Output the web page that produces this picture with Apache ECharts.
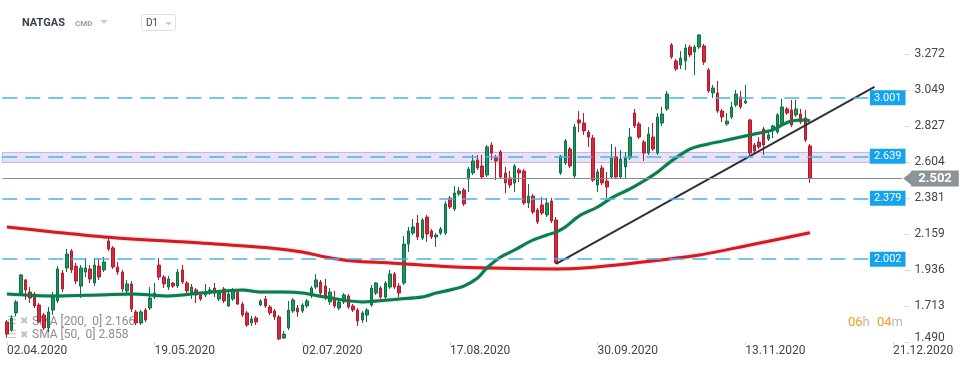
<!DOCTYPE html>
<html><head><meta charset="utf-8">
<script src="https://cdn.jsdelivr.net/npm/echarts@6/dist/echarts.min.js"></script>
<style>html,body{margin:0;padding:0;background:#fff}#c{width:974px;height:368px}</style>
</head><body><div id="c"></div>
<script>
// ---- data ----
const tickLabels = ['02.04.2020','19.05.2020','02.07.2020','17.08.2020','30.09.2020','13.11.2020','21.12.2020'];
const tickBars = [0, 32, 64, 96, 128, 160, 192];
const priceTicks = [1.490, 1.713, 1.936, 2.159, 2.381, 2.604, 2.827, 3.049, 3.272];
// [open, close, low, high]
const ohlc = [
[1.614,1.539,1.515,1.626],[1.564,1.639,1.552,1.657],[1.670,1.738,1.651,1.750],[1.793,1.905,1.781,1.911],
[1.874,1.812,1.750,1.880],[1.799,1.762,1.731,1.830],[1.787,1.713,1.700,1.799],[1.719,1.614,1.608,1.731],
[1.657,1.577,1.564,1.670],[1.577,1.676,1.552,1.707],[1.688,1.769,1.657,1.799],[1.744,1.942,1.731,1.960],
[1.917,1.818,1.799,1.936],[1.948,2.034,1.923,2.065],[2.053,1.936,1.917,2.065],[1.960,1.867,1.849,1.979],
[1.836,1.948,1.762,1.966],[1.923,1.948,1.892,2.010],[1.942,1.880,1.855,1.966],[1.855,1.966,1.836,2.010],
[1.960,1.892,1.874,2.010],[1.936,1.985,1.923,2.016],[2.115,2.065,2.053,2.146],[2.072,1.954,1.942,2.084],
[1.954,1.923,1.905,1.985],[1.923,1.818,1.799,1.936],[1.806,1.849,1.793,1.874],[1.849,1.694,1.676,1.867],
[1.676,1.608,1.595,1.688],[1.608,1.676,1.595,1.688],[1.688,1.626,1.614,1.700],[1.700,1.762,1.688,1.830],
[1.768,1.793,1.756,1.855],[1.966,1.892,1.874,2.010],[1.892,1.849,1.824,1.905],[1.830,1.880,1.812,1.898],
[1.855,1.836,1.824,1.861],[1.836,1.923,1.824,1.942],[1.936,1.861,1.849,1.966],[1.855,1.806,1.793,1.867],
[1.793,1.830,1.756,1.849],[1.812,1.781,1.731,1.824],[1.781,1.756,1.744,1.793],[1.781,1.793,1.768,1.849],
[1.793,1.812,1.781,1.830],[1.824,1.793,1.768,1.855],[1.756,1.793,1.744,1.812],[1.818,1.744,1.731,1.830],
[1.713,1.787,1.707,1.799],[1.756,1.806,1.744,1.824],[1.799,1.725,1.719,1.812],[1.725,1.657,1.645,1.738],
[1.670,1.595,1.583,1.682],[1.608,1.633,1.589,1.651],[1.639,1.614,1.595,1.651],[1.719,1.744,1.713,1.756],
[1.756,1.713,1.700,1.775],[1.707,1.670,1.657,1.719],[1.682,1.645,1.626,1.694],[1.645,1.509,1.502,1.657],
[1.515,1.539,1.509,1.558],[1.577,1.688,1.564,1.744],[1.682,1.750,1.670,1.762],[1.700,1.676,1.645,1.719],
[1.682,1.719,1.670,1.731],[1.713,1.744,1.700,1.756],[1.775,1.824,1.762,1.836],[1.830,1.874,1.818,1.911],
[1.861,1.793,1.781,1.874],[1.836,1.762,1.750,1.880],[1.738,1.799,1.719,1.824],[1.756,1.713,1.700,1.806],
[1.700,1.738,1.688,1.750],[1.738,1.781,1.725,1.793],[1.775,1.707,1.694,1.787],[1.713,1.688,1.676,1.725],
[1.688,1.620,1.589,1.700],[1.626,1.670,1.608,1.682],[1.657,1.688,1.614,1.700],[1.719,1.824,1.707,1.843],
[1.793,1.855,1.781,1.861],[1.824,1.768,1.756,1.836],[1.768,1.855,1.756,1.867],[1.830,1.911,1.818,1.936],
[1.911,1.830,1.818,1.923],[1.836,1.793,1.768,1.855],[1.855,2.096,1.843,2.146],[2.096,2.177,2.047,2.202],
[2.164,2.202,2.152,2.251],[2.226,2.140,2.121,2.276],[2.133,2.245,2.121,2.257],[2.263,2.158,2.109,2.276],
[2.177,2.140,2.127,2.189],[2.140,2.152,2.078,2.164],[2.164,2.189,2.152,2.202],[2.164,2.344,2.152,2.362],
[2.381,2.325,2.313,2.393],[2.313,2.412,2.300,2.455],[2.406,2.424,2.393,2.449],[2.431,2.344,2.331,2.443],
[2.498,2.560,2.418,2.573],[2.536,2.610,2.523,2.647],[2.616,2.567,2.554,2.647],[2.579,2.511,2.498,2.647],
[2.523,2.697,2.511,2.709],[2.709,2.659,2.616,2.727],[2.629,2.610,2.492,2.647],[2.666,2.511,2.498,2.678],
[2.536,2.474,2.412,2.573],[2.505,2.461,2.443,2.548],[2.474,2.579,2.418,2.592],[2.554,2.536,2.480,2.567],
[2.548,2.350,2.338,2.560],[2.350,2.393,2.319,2.468],[2.393,2.294,2.282,2.406],[2.307,2.233,2.220,2.319],
[2.338,2.288,2.276,2.387],[2.276,2.350,2.263,2.381],[2.362,2.239,2.226,2.381],[2.245,1.979,1.973,2.263],
[2.536,2.641,2.523,2.647],[2.598,2.734,2.585,2.746],[2.684,2.579,2.567,2.697],[2.517,2.820,2.505,2.839],
[2.864,2.845,2.789,2.919],[2.845,2.796,2.771,2.907],[2.789,2.758,2.697,2.802],[2.752,2.492,2.480,2.771],
[2.461,2.542,2.418,2.560],[2.567,2.474,2.461,2.585],[2.486,2.449,2.381,2.542],[2.511,2.629,2.498,2.715],
[2.635,2.511,2.498,2.697],[2.511,2.622,2.498,2.678],[2.573,2.629,2.505,2.666],[2.629,2.758,2.616,2.814],
[2.907,2.827,2.814,2.932],[2.839,2.758,2.746,2.851],[2.727,2.659,2.610,2.740],[2.659,2.777,2.647,2.820],
[2.758,2.684,2.672,2.845],[2.659,2.882,2.647,2.907],[2.845,2.901,2.827,2.944],[2.932,3.024,2.919,3.043],
[3.328,3.253,3.241,3.340],[3.229,3.179,3.167,3.241],[3.204,3.247,3.179,3.290],[3.229,3.309,3.173,3.334],
[3.315,3.266,3.253,3.328],[3.284,3.315,3.142,3.328],[3.315,3.390,3.303,3.396],[3.322,3.222,3.204,3.334],
[3.173,3.043,3.031,3.185],[3.031,3.062,3.000,3.080],[3.031,2.919,2.907,3.105],[2.919,2.882,2.851,2.932],
[2.839,2.857,2.827,2.907],[2.882,2.944,2.870,2.975],[2.956,3.024,2.944,3.049],[3.006,2.944,2.932,3.043],
[2.969,2.981,2.963,3.080],[2.864,2.659,2.647,2.870],[2.709,2.672,2.659,2.721],[2.727,2.697,2.684,2.758],
[2.808,2.709,2.647,2.820],[2.746,2.771,2.734,2.789],[2.802,2.827,2.752,2.833],[2.789,2.895,2.777,2.907],
[2.839,2.944,2.827,2.994],[2.932,2.907,2.895,2.944],[2.926,2.833,2.820,2.988],[2.895,2.932,2.882,2.988],
[2.901,2.851,2.839,2.932],[2.876,2.740,2.727,2.926],[2.703,2.502,2.474,2.715]
];
// [bar, value]
const sma200 = [[0,2.202],[10,2.171],[21,2.140],[42,2.102],[57,2.072],[64,2.047],[69,2.016],[75,1.991],
[83,1.979],[90,1.966],[97,1.954],[104,1.948],[119,1.942],[125,1.948],[136,1.979],[150,2.028],[161,2.090],[174,2.166]];
const sma50 = [[0,1.787],[10,1.775],[20,1.781],[27,1.787],[35,1.775],[42,1.793],[51,1.812],[55,1.799],[60,1.799],
[64,1.793],[69,1.768],[77,1.738],[85,1.756],[90,1.768],[93,1.793],[96,1.812],[99,1.836],[102,1.886],[104,1.948],
[107,2.016],[110,2.059],[114,2.121],[117,2.152],[119,2.170],[121,2.202],[124,2.270],[128,2.325],[131,2.381],[135,2.437],
[138,2.486],[141,2.542],[144,2.610],[148,2.684],[152,2.715],[155,2.733],[159,2.758],[163,2.783],[166,2.802],
[168,2.833],[170,2.857],[173,2.864],[174,2.858]];
const trend = [[119,1.973],[188,3.068]];
const levels = [3.001, 2.639, 2.379, 2.002];
const band = [2.601, 2.663];
const lastPrice = 2.502;
const levelEndBar = 187;

// ---- layout helpers ----
const PAD = 1, TOTAL = 196;
const cats = []; for (let i = 0; i < TOTAL; i++) cats.push('b' + i);
const labelMap = {}; tickBars.forEach((b, k) => labelMap[b + PAD] = tickLabels[k]);
const showTick = (i) => labelMap[i] !== undefined;
const shift = arr => arr.map(p => [p[0] + PAD, p[1]]);
const FONT = 'Roboto, "Noto Sans", sans-serif';
const CYAN = '#14a3ec';

const chart = echarts.init(document.getElementById('c'), null, {renderer: 'canvas'});
const levelLines = levels.map(v => [
  {coord: [0, v], label: {formatter: v.toFixed(3)}},
  {coord: [levelEndBar + PAD, v]}
]);

chart.setOption({
  animation: false,
  grid: {left: -2, right: 69.5, top: 0, bottom: 26},
  xAxis: {
    type: 'category', data: cats, boundaryGap: true,
    axisLine: {show: false}, splitLine: {show: false},
    axisTick: {show: true, interval: showTick, alignWithLabel: true, length: 3, lineStyle: {color: '#d2d2d2'}},
    axisLabel: {interval: showTick, formatter: (v, i) => labelMap[i] || '', align: 'left', margin: 3,
      color: '#454545', fontSize: 12, fontFamily: FONT}
  },
  yAxis: {
    type: 'value', position: 'right', min: 1.490, max: 3.606,
    axisLine: {show: false}, splitLine: {show: false},
    axisTick: {show: true, length: 5, lineStyle: {color: '#d5d5d5'}, customValues: priceTicks},
    axisLabel: {customValues: priceTicks, margin: 10, color: '#454545', fontSize: 12, fontFamily: FONT,
      formatter: v => Math.abs(v - 1.49) < 1e-6 ? '{b|' + v.toFixed(3) + '}' : v.toFixed(3),
      rich: {b: {padding: [0, 0, 8, 0], fontSize: 12, color: '#454545', fontFamily: FONT}}}
  },
  series: [
    {
      type: 'line', z: 1, data: [], silent: true,
      markLine: {
        silent: true, symbol: 'none', animation: false,
        lineStyle: {color: '#4ab3ec', width: 1.5, type: [15, 8]},
        label: {position: 'end', distance: 0, color: '#fff', backgroundColor: CYAN, fontSize: 11,
          fontFamily: FONT, padding: [2, 4, 2, 4], lineHeight: 11},
        data: levelLines.concat([[
          {coord: [0, lastPrice], lineStyle: {color: '#858e93', width: 1, type: 'solid'},
           label: {formatter: lastPrice.toFixed(3), distance: 9, backgroundColor: '#8a9499', fontSize: 13,
             fontWeight: 'bold', padding: [2, 7, 1, 7], lineHeight: 13}},
          {coord: [TOTAL - 1, lastPrice]}
        ]])
      },
      markPoint: {
        silent: true, animation: false,
        data: [{coord: [TOTAL - 1, lastPrice], symbol: 'triangle', symbolSize: [16, 10], symbolRotate: 90,
          symbolOffset: [6, 0], itemStyle: {color: '#8a9499'}, label: {show: false}}]
      }
    },
    {
      name: 'NATGAS', type: 'candlestick', z: 2,
      data: ohlc.map((r, i) => [i + PAD, r[0], r[1], r[2], r[3]]),
      encode: {x: 0, y: [1, 2, 3, 4]},
      barWidth: 3,
      itemStyle: {color: '#1c9560', color0: '#d8283c', borderColor: '#0c7043', borderColor0: '#b01c2e', borderWidth: 1}
    },
    {
      name: 'SMA200', type: 'line', z: 3, data: shift(sma200), smooth: 0.3, showSymbol: false, symbol: 'none',
      lineStyle: {color: '#d71920', width: 3, shadowColor: 'rgba(215,25,32,0.35)', shadowBlur: 2}
    },
    {
      name: 'SMA50', type: 'line', z: 3, data: shift(sma50), smooth: 0.3, showSymbol: false, symbol: 'none',
      lineStyle: {color: '#0b7c4c', width: 3, shadowColor: 'rgba(11,124,76,0.35)', shadowBlur: 2}
    },
    {
      name: 'trend', type: 'line', z: 4, data: shift(trend), showSymbol: false, symbol: 'none',
      lineStyle: {color: '#2d3137', width: 2}
    },
    {
      type: 'line', z: 6, data: [], silent: true,
      markArea: {
        silent: true,
        itemStyle: {color: 'rgba(206,190,236,0.45)', borderColor: 'rgba(190,170,225,0.9)', borderWidth: 1},
        data: [[{coord: [0, band[1]]}, {coord: [levelEndBar + PAD, band[0]]}]]
      }
    }
  ],
  graphic: [
    {type: 'text', x: 22, y: 23, style: {text: 'NATGAS', fill: '#38434e', font: 'bold 11px ' + FONT, verticalAlign: 'middle'}},
    {type: 'text', x: 75, y: 24, style: {text: 'CMD', fill: '#90a3b4', font: 'bold 8px ' + FONT, verticalAlign: 'middle'}},
    {type: 'polygon', shape: {points: [[100, 20], [108, 20], [104, 24]]}, style: {fill: '#cbd0d5'}},
    {type: 'rect', shape: {x: 141.5, y: 14.5, width: 34, height: 16, r: 2}, style: {fill: '#fff', stroke: '#dde1e6', lineWidth: 1}},
    {type: 'text', x: 146, y: 23, style: {text: 'D1', fill: '#444', font: '10px ' + FONT, verticalAlign: 'middle'}},
    {type: 'polygon', shape: {points: [[165, 22], [172, 22], [168.5, 25.5]]}, style: {fill: '#cbd0d5'}},

    {type: 'text', x: 7, y: 321, style: {text: '☰', fill: '#c2c2c2', font: '11px "DejaVu Sans"', verticalAlign: 'middle'}},
    {type: 'text', x: 20, y: 321, style: {text: '✖', fill: '#c2c2c2', font: '10px "DejaVu Sans"', verticalAlign: 'middle'}},
    {type: 'text', x: 32, y: 321.5, style: {text: 'SMA [200,  0] 2.166', fill: '#8d8d8d', font: '12px ' + FONT, verticalAlign: 'middle'}},
    {type: 'text', x: 7, y: 335, style: {text: '☰', fill: '#c2c2c2', font: '11px "DejaVu Sans"', verticalAlign: 'middle'}},
    {type: 'text', x: 20, y: 335, style: {text: '✖', fill: '#c2c2c2', font: '10px "DejaVu Sans"', verticalAlign: 'middle'}},
    {type: 'text', x: 32, y: 335, style: {text: 'SMA [50,  0] 2.858', fill: '#8d8d8d', font: '12px ' + FONT, verticalAlign: 'middle'}},

    {type: 'text', x: 848, y: 322.5, style: {text: '{o|06}{g|h}', verticalAlign: 'middle',
      rich: {o: {fill: '#f59a23', font: '13px ' + FONT}, g: {fill: '#b9b9b9', font: '13px ' + FONT}}}},
    {type: 'text', x: 877, y: 322.5, style: {text: '{o|04}{g|m}', verticalAlign: 'middle',
      rich: {o: {fill: '#f59a23', font: '13px ' + FONT}, g: {fill: '#b9b9b9', font: '13px ' + FONT}}}}
  ]
});
</script></body></html>
